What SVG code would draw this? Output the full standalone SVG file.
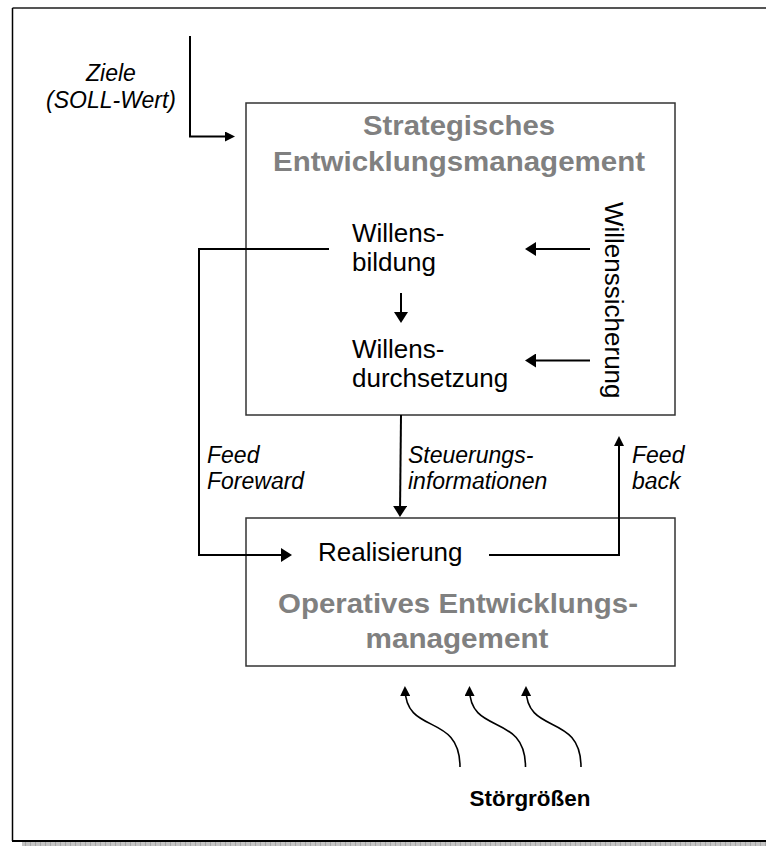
<svg xmlns="http://www.w3.org/2000/svg" width="766" height="846" viewBox="0 0 766 846">
  <style>
    text { font-family: "Liberation Sans", Arial, Helvetica, sans-serif; fill: #000; }
    .lbl { font-size: 23px; font-style: italic; }
    .txt { font-size: 26px; }
    .title { font-size: 27.5px; font-weight: bold; fill: #808080; }
    .dist { font-size: 22px; font-weight: bold; }
    .box { fill: #fff; stroke: #333; stroke-width: 1.5; }
    .conn { fill: none; stroke: #000; stroke-width: 2; }
    .thin { fill: none; stroke: #000; stroke-width: 1.6; }
  </style>
  <defs>
    <marker id="ahBig" markerUnits="userSpaceOnUse" markerWidth="11" markerHeight="14" refX="8" refY="7" orient="auto">
      <path d="M0,0 L11,7 L0,14 Z" fill="#000"/>
    </marker>
    <marker id="ahSmall" markerUnits="userSpaceOnUse" markerWidth="10" markerHeight="10" refX="7" refY="5" orient="auto">
      <path d="M0,0 L10,5 L0,10 Z" fill="#000"/>
    </marker>
    <pattern id="shadowGrid" patternUnits="userSpaceOnUse" width="5" height="5">
      <rect width="5" height="5" fill="#c4c4c4"/>
      <rect x="0" width="1" height="5" fill="#a6a6a6"/>
    </pattern>
  </defs>

  <rect width="766" height="846" fill="#fff"/>

  <!-- page frame with drop shadow -->
  <g id="frame">
    <rect x="22" y="842" width="744" height="4" fill="url(#shadowGrid)"/>
    <line x1="12.5" y1="8" x2="766" y2="8" stroke="#555" stroke-width="2"/>
    <line x1="12.5" y1="8" x2="12.5" y2="841" stroke="#000" stroke-width="1.5"/>
    <line x1="12" y1="841" x2="766" y2="841" stroke="#000" stroke-width="2"/>
  </g>

  <!-- strategic level -->
  <g id="strategisch">
    <rect class="box" x="246" y="103" width="429" height="312"/>
    <text class="title" x="459" y="135" text-anchor="middle" textLength="192" lengthAdjust="spacingAndGlyphs">Strategisches</text>
    <text class="title" x="459" y="171" text-anchor="middle" textLength="372" lengthAdjust="spacingAndGlyphs">Entwicklungsmanagement</text>
  </g>

  <g id="willensbildung">
    <text class="txt" x="352" y="242">Willens-</text>
    <text class="txt" x="352" y="271">bildung</text>
  </g>

  <g id="willensdurchsetzung">
    <text class="txt" x="352" y="358">Willens-</text>
    <text class="txt" x="352" y="387">durchsetzung</text>
  </g>

  <g id="willenssicherung">
    <text class="txt" transform="translate(605,202) rotate(90)">Willenssicherung</text>
  </g>

  <!-- operative level -->
  <g id="operativ">
    <rect class="box" x="246" y="518" width="429" height="148"/>
    <text class="title" x="458" y="613" text-anchor="middle" textLength="360" lengthAdjust="spacingAndGlyphs">Operatives Entwicklungs-</text>
    <text class="title" x="457" y="648" text-anchor="middle" textLength="183" lengthAdjust="spacingAndGlyphs">management</text>
  </g>

  <g id="realisierung">
    <text class="txt" x="318" y="561">Realisierung</text>
  </g>

  <g id="ziele">
    <text class="lbl" x="111" y="81" text-anchor="middle">Ziele</text>
    <text class="lbl" x="111" y="107.5" text-anchor="middle">(SOLL-Wert)</text>
  </g>

  <g id="stoergroessen">
    <text class="dist" x="530" y="806" text-anchor="middle" textLength="121" lengthAdjust="spacingAndGlyphs">Störgrößen</text>
  </g>

  <!-- connectors -->
  <g id="connectors">
    <!-- targets into strategic management -->
    <path class="conn" d="M190,36 V136.5 H232" marker-end="url(#ahSmall)"/>
    <!-- Willenssicherung into both stages -->
    <path class="conn" d="M590,249 H528" marker-end="url(#ahBig)"/>
    <path class="conn" d="M590,360.5 H528" marker-end="url(#ahBig)"/>
    <!-- Willensbildung to Willensdurchsetzung -->
    <path class="conn" d="M401,293 V320" marker-end="url(#ahBig)"/>
    <!-- feed forward -->
    <path class="conn" d="M329,249 H199 V555 H289" marker-end="url(#ahBig)"/>
    <!-- control information -->
    <path class="conn" d="M401,415 L400,514" marker-end="url(#ahBig)"/>
    <!-- feedback -->
    <path class="conn" d="M489,555 H619 V439" marker-end="url(#ahSmall)"/>
    <!-- disturbances -->
    <path class="thin" d="M460,767 C460,712 406,736 405,689" marker-end="url(#ahSmall)"/>
    <path class="thin" d="M525.5,767 C525.5,712 470,736 469.5,689" marker-end="url(#ahSmall)"/>
    <path class="thin" d="M581,767 C581,712 526.5,736 526,689" marker-end="url(#ahSmall)"/>

    <text class="lbl" x="207" y="463">Feed</text>
    <text class="lbl" x="207" y="489">Foreward</text>
    <text class="lbl" x="408" y="463">Steuerungs-</text>
    <text class="lbl" x="408" y="489">informationen</text>
    <text class="lbl" x="632" y="463">Feed</text>
    <text class="lbl" x="632" y="489">back</text>
  </g>
</svg>
